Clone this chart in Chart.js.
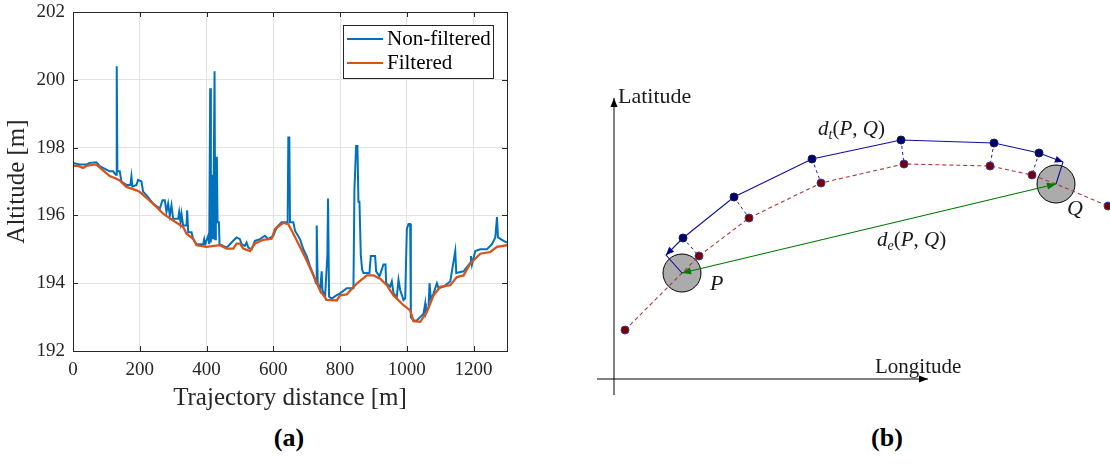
<!DOCTYPE html>
<html>
<head>
<meta charset="utf-8">
<script src="https://cdn.jsdelivr.net/npm/chart.js@4/dist/chart.umd.min.js"></script>
<style>
  body { margin: 0; width: 1110px; height: 464px; background: #fff; position: relative; overflow: hidden; font-family: "Liberation Serif", serif; }
  #chartAlt { position: absolute; left: 0; top: 0; }
  #chartDist { position: absolute; left: 555px; top: 0; }
  .cap { position: absolute; top: 423px; width: 80px; text-align: center; font-weight: bold; font-size: 26px; color: #000; }
</style>
</head>
<body>
<canvas id="chartAlt" width="540" height="420"></canvas>
<canvas id="chartDist" width="555" height="420"></canvas>
<div class="cap" style="left:249px">(a)</div>
<div class="cap" style="left:847px">(b)</div>
<script>
// (a) altitude along the trajectory
const rawDist = [
  0, 20, 40, 50, 70, 80, 100, 110, 120, 128,
  130, 131, 133, 140, 145, 160, 172, 175, 178, 190,
  195, 205, 210, 220, 240, 260, 268, 275, 280, 285,
  290, 295, 300, 315, 318, 322, 325, 330, 340, 342,
  345, 355, 360, 370, 390, 393, 396, 405, 408, 411,
  413, 414, 416, 418, 420, 424, 426, 428, 431, 433,
  437, 439, 450, 460, 470, 480, 490, 500, 505, 515,
  520, 525, 535, 545, 560, 575, 585, 600, 610, 625,
  643, 645, 648, 650, 660, 665, 680, 690, 700, 710,
  720, 728, 730, 733, 740, 745, 747, 755, 762, 764,
  767, 775, 790, 800, 820, 840, 843, 848, 852, 855,
  858, 862, 866, 870, 888, 892, 905, 908, 918, 930,
  936, 938, 950, 955, 960, 970, 975, 980, 990, 995,
  1000, 1005, 1010, 1012, 1020, 1030, 1040, 1050, 1055, 1057,
  1065, 1068, 1072, 1080, 1090, 1095, 1110, 1130, 1145, 1148,
  1170, 1190, 1192, 1195, 1205, 1220, 1240, 1255, 1265, 1270,
  1273, 1290, 1300
];
const rawAlt = [
  197.55, 197.50, 197.50, 197.55, 197.57, 197.45, 197.35, 197.30, 197.30, 197.20,
  197.20, 200.40, 197.30, 197.30, 197.00, 196.90, 196.90, 197.15, 196.85, 196.90,
  197.05, 197.00, 196.70, 196.60, 196.35, 196.20, 196.45, 196.45, 196.10, 196.35,
  196.00, 196.30, 195.90, 195.90, 196.10, 195.80, 196.05, 195.70, 195.70, 196.15,
  195.50, 195.50, 195.30, 195.15, 195.15, 195.30, 195.15, 195.40, 195.15, 199.75,
  195.20, 197.20, 195.30, 197.10, 195.30, 200.25, 195.30, 197.70, 197.70, 195.80,
  195.80, 195.15, 195.10, 195.05, 195.15, 195.25, 195.35, 195.30, 195.15, 195.10,
  195.20, 195.05, 195.00, 195.25, 195.30, 195.40, 195.30, 195.40, 195.65, 195.80,
  195.80, 198.30, 198.30, 195.80, 195.80, 195.55, 195.30, 195.00, 194.80, 194.50,
  194.25, 194.00, 195.70, 194.00, 193.80, 194.35, 193.80, 193.60, 194.85, 196.50,
  193.60, 193.55, 193.65, 193.70, 193.85, 193.85, 196.75, 198.05, 198.05, 196.40,
  196.40, 194.85, 194.40, 194.30, 194.30, 194.80, 194.80, 194.35, 194.20, 194.55,
  194.55, 194.00, 193.90, 194.05, 193.70, 193.60, 194.10, 193.80, 193.50, 193.55,
  195.60, 195.75, 195.75, 193.00, 192.90, 192.90, 193.00, 193.10, 193.40, 193.10,
  193.30, 194.00, 193.50, 193.70, 194.00, 193.85, 193.90, 194.05, 194.95, 194.30,
  194.35, 194.60, 194.80, 194.55, 194.95, 195.00, 195.00, 195.15, 195.35, 195.95,
  195.35, 195.25, 195.20
];
const filtDist = [
  0, 15, 30, 40, 60, 70, 90, 110, 130, 140,
  160, 190, 200, 220, 250, 270, 300, 330, 340, 360,
  370, 400, 440, 460, 480, 490, 500, 510, 530, 545,
  570, 595, 605, 630, 645, 660, 680, 700, 720, 740,
  760, 790, 800, 820, 850, 880, 900, 920, 940, 960,
  990, 1010, 1020, 1040, 1060, 1080, 1100, 1130, 1150, 1170,
  1190, 1220, 1250, 1270, 1300
];
const filtAlt = [
  197.46, 197.46, 197.40, 197.46, 197.50, 197.50, 197.33, 197.16, 197.08, 197.03,
  196.84, 196.74, 196.69, 196.52, 196.25, 196.05, 195.85, 195.66, 195.46, 195.31,
  195.12, 195.07, 195.12, 195.02, 195.02, 195.17, 195.17, 195.02, 194.95, 195.17,
  195.28, 195.31, 195.60, 195.78, 195.74, 195.46, 195.07, 194.67, 194.23, 193.79,
  193.51, 193.49, 193.64, 193.67, 193.99, 194.23, 194.23, 194.13, 193.94, 193.64,
  193.35, 193.20, 192.88, 192.86, 193.15, 193.64, 193.89, 193.94, 194.18, 194.23,
  194.58, 194.87, 194.92, 195.07, 195.12
];
const seriesNames = ['Non-filtered', 'Filtered'];

// (b) schematic, longitude / latitude units
const trajLon = [68, 52, 69, 120, 198, 287, 380, 425, 449, 442];   // P, arrow tip, 6 samples, arrow tip, Q
const trajLat = [106, 124, 141, 182, 220, 239, 236, 226, 217, 195];
const sampleLon = [11, 68, 85, 135, 207, 290, 376, 418, 442, 494]; // dashed path, P at 1, Q at 8
const sampleLat = [49, 106, 123, 161, 196, 215, 213, 204, 195, 173];
const endLon = [68, 442];
const endLat = [106, 195];
const axisLon = [0, 0, -17, 314];
const axisLat = [-16, 281, 0, 0];

const serif = '"Liberation Serif", "DejaVu Serif", serif';
const tickColor = '#262626';
Chart.defaults.font.family = serif;

const boxPlugin = {
  id: 'matlabBox',
  afterDraw(chart) {
    const { ctx, chartArea: a, scales } = chart;
    ctx.save();
    ctx.strokeStyle = tickColor;
    ctx.lineWidth = 1;
    ctx.beginPath();
    scales.x.ticks.forEach(t => {
      const x = Math.round(scales.x.getPixelForValue(t.value)) + 0.5;
      ctx.moveTo(x, a.bottom); ctx.lineTo(x, a.bottom - 5);
      ctx.moveTo(x, a.top); ctx.lineTo(x, a.top + 5);
    });
    scales.y.ticks.forEach(t => {
      const y = Math.round(scales.y.getPixelForValue(t.value)) + 0.5;
      ctx.moveTo(a.left, y); ctx.lineTo(a.left + 5, y);
      ctx.moveTo(a.right, y); ctx.lineTo(a.right - 5, y);
    });
    ctx.stroke();
    ctx.strokeRect(Math.round(a.left) + 0.5, Math.round(a.top) + 0.5, Math.round(a.right - a.left), Math.round(a.bottom - a.top));

    // legend in the upper right corner
    const lx = a.right - 164, ly = a.top + 13, lw = 150, lh = 53;
    ctx.fillStyle = '#fff';
    ctx.fillRect(lx, ly, lw, lh);
    ctx.strokeRect(lx + 0.5, ly + 0.5, lw, lh);
    ctx.font = '21px ' + serif;
    ctx.textBaseline = 'middle';
    chart.data.datasets.forEach((ds, i) => {
      const y = ly + 14 + i * 24;
      ctx.strokeStyle = ds.borderColor;
      ctx.lineWidth = 2;
      ctx.beginPath(); ctx.moveTo(lx + 4, y); ctx.lineTo(lx + 40, y); ctx.stroke();
      ctx.fillStyle = '#000';
      ctx.fillText(ds.label, lx + 44, y);
    });
    ctx.restore();
  }
};

new Chart(document.getElementById('chartAlt'), {
  type: 'line',
  data: {
    datasets: [
      { label: seriesNames[0], data: rawDist.map((x, i) => ({ x: x, y: rawAlt[i] })),
        borderColor: '#0072BD', borderWidth: 2, pointRadius: 0, order: 2 },
      { label: seriesNames[1], data: filtDist.map((x, i) => ({ x: x, y: filtAlt[i] })),
        borderColor: '#D95319', borderWidth: 2.3, pointRadius: 0, order: 1 }
    ]
  },
  options: {
    responsive: false,
    animation: false,
    events: [],
    layout: { autoPadding: false, padding: { top: 12, right: 33, left: 0, bottom: 0 } },
    plugins: { legend: { display: false }, tooltip: { enabled: false } },
    scales: {
      x: {
        type: 'linear', min: 0, max: 1300,
        ticks: { stepSize: 200, includeBounds: false, maxRotation: 0, padding: 8, color: tickColor,
                 font: { family: serif, size: 19 }, callback: v => String(v) },
        grid: { color: '#e3e3e3', drawTicks: false },
        border: { display: false },
        title: { display: true, text: 'Trajectory distance [m]', color: tickColor, font: { family: serif, size: 25 }, padding: { top: 0, bottom: 7 } },
        afterFit(s) { s.height = 69; s.paddingLeft = 0; s.paddingRight = 0; }
      },
      y: {
        min: 192, max: 202,
        ticks: { stepSize: 2, padding: 8, color: tickColor, font: { family: serif, size: 19 }, callback: v => String(v) },
        grid: { color: '#e3e3e3', drawTicks: false },
        border: { display: false },
        title: { display: true, text: 'Altitude [m]', color: tickColor, font: { family: serif, size: 25 }, padding: { top: 2, bottom: 0 } },
        afterFit(s) { s.width = 73; s.paddingTop = 0; s.paddingBottom = 0; }
      }
    }
  },
  plugins: [boxPlugin]
});

function pts(lon, lat) { return lon.map((x, i) => ({ x: x, y: lat[i] })); }

function arrowHead(ctx, from, to, color, len, half) {
  const a = Math.atan2(to.y - from.y, to.x - from.x);
  const bx = to.x - len * Math.cos(a), by = to.y - len * Math.sin(a);
  ctx.fillStyle = color;
  ctx.beginPath();
  ctx.moveTo(to.x, to.y);
  ctx.lineTo(bx + half * Math.sin(a), by - half * Math.cos(a));
  ctx.lineTo(bx - half * Math.sin(a), by + half * Math.cos(a));
  ctx.closePath();
  ctx.fill();
}

function mathText(ctx, x, y, parts) {
  parts.forEach(p => {
    ctx.font = (p[1] ? 'italic ' : '') + p[2] + 'px ' + serif;
    ctx.fillText(p[0], x, y + (p[3] || 0));
    x += ctx.measureText(p[0]).width;
  });
}

const diagramPlugin = {
  id: 'diagram',
  beforeDatasetsDraw(chart) {
    const { ctx, scales: { x, y } } = chart;
    const px = i => ({ x: x.getPixelForValue(axisLon[i]), y: y.getPixelForValue(axisLat[i]) });
    ctx.save();
    ctx.strokeStyle = '#000';
    ctx.lineWidth = 1;
    ctx.beginPath();
    ctx.moveTo(px(0).x, px(0).y); ctx.lineTo(px(1).x, px(1).y);
    ctx.moveTo(px(2).x, px(2).y); ctx.lineTo(px(3).x, px(3).y);
    ctx.stroke();
    arrowHead(ctx, px(0), px(1), '#000', 9, 3.5);
    arrowHead(ctx, px(2), px(3), '#000', 9, 3.5);
    ctx.restore();
  },
  afterDatasetsDraw(chart) {
    const { ctx, scales: { x, y } } = chart;
    const tp = i => ({ x: x.getPixelForValue(trajLon[i]), y: y.getPixelForValue(trajLat[i]) });
    const ep = i => ({ x: x.getPixelForValue(endLon[i]), y: y.getPixelForValue(endLat[i]) });
    ctx.save();
    arrowHead(ctx, tp(2), tp(1), '#00008f', 8, 3.5);
    arrowHead(ctx, tp(7), tp(8), '#00008f', 8, 3.5);
    arrowHead(ctx, ep(1), ep(0), '#007a00', 9, 3.5);
    arrowHead(ctx, ep(0), ep(1), '#007a00', 9, 3.5);

    ctx.fillStyle = '#1a1a1a';
    ctx.textBaseline = 'alphabetic';
    const at = (lon, lat) => [x.getPixelForValue(lon), y.getPixelForValue(lat)];
    let p = at(4, 276);  mathText(ctx, p[0], p[1], [['Latitude', false, 22]]);
    p = at(261, 6);      mathText(ctx, p[0], p[1], [['Longitude', false, 21]]);
    p = at(204, 244);    mathText(ctx, p[0], p[1], [['d', true, 21], ['t', true, 14, 4], ['(', false, 21], ['P', true, 21], [', ', false, 21], ['Q', true, 21], [')', false, 21]]);
    p = at(263, 133);    mathText(ctx, p[0], p[1], [['d', true, 21], ['e', true, 14, 4], ['(', false, 21], ['P', true, 21], [', ', false, 21], ['Q', true, 21], [')', false, 21]]);
    p = at(96, 89);      mathText(ctx, p[0], p[1], [['P', true, 22]]);
    p = at(453, 164);    mathText(ctx, p[0], p[1], [['Q', true, 22]]);
    ctx.restore();
  }
};

const redDots = pts(sampleLon, sampleLat).filter((d, i) => i !== 1 && i !== 8);
const blueDots = pts(trajLon, trajLat).slice(2, 8);
const connectors = blueDots.map((b, i) => ({
  data: [b, redDots[i + 1]], showLine: true, borderColor: '#1c1ca0', borderWidth: 1,
  borderDash: [3, 3], pointRadius: 0, order: 7
}));

new Chart(document.getElementById('chartDist'), {
  type: 'scatter',
  data: {
    datasets: [
      { data: pts(endLon, endLat), pointRadius: 19, backgroundColor: '#ababab', borderColor: '#000', borderWidth: 1, order: 10 },
      { data: pts(sampleLon, sampleLat), showLine: true, borderColor: '#a83a3a', borderWidth: 1.1, borderDash: [4, 3], pointRadius: 0, order: 8 },
      ...connectors,
      { data: pts(trajLon, trajLat), showLine: true, borderColor: '#10109a', borderWidth: 1.1, pointRadius: 0, order: 6 },
      { data: pts(endLon, endLat), showLine: true, borderColor: '#007a00', borderWidth: 1.1, pointRadius: 0, order: 5 },
      { data: redDots, pointRadius: 4, backgroundColor: '#7a0000', borderColor: '#3a3aa8', borderWidth: 1, order: 3 },
      { data: blueDots, pointRadius: 4, backgroundColor: '#00006e', borderColor: '#1a1a50', borderWidth: 1, order: 2 }
    ]
  },
  options: {
    responsive: false,
    animation: false,
    events: [],
    layout: { autoPadding: false, padding: 0 },
    plugins: { legend: { display: false }, tooltip: { enabled: false } },
    scales: {
      x: { type: 'linear', min: -59, max: 496, display: false },
      y: { type: 'linear', min: -41, max: 379, display: false }
    }
  },
  plugins: [diagramPlugin]
});
</script>
</body>
</html>
